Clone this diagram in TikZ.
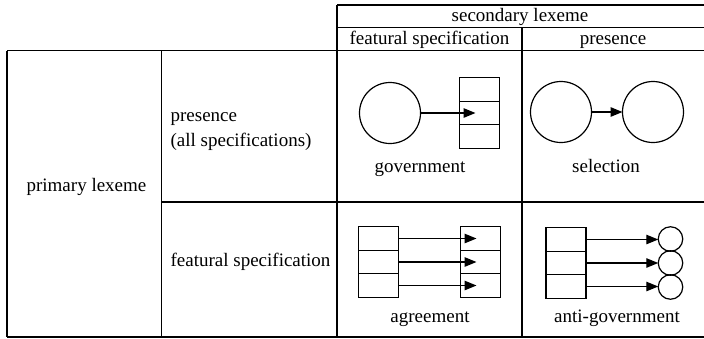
\documentclass[tikz,border=0pt]{standalone}
\usepackage{fontspec}
\setmainfont{Liberation Serif}
\usetikzlibrary{arrows.meta,positioning}
\begin{document}
\begin{tikzpicture}[x=1pt,y=-1pt,line width=1.2pt,
  arr/.style={-{Triangle[length=12pt,width=9.5pt]},line width=1.3pt},
  cellbox/.style={draw,minimum width=40pt,minimum height=23.5pt,inner sep=0pt,outer sep=0pt},
  bigcirc/.style={draw,circle,minimum size=61pt,inner sep=0pt,outer sep=0pt},
  smallcirc/.style={draw,circle,minimum size=24.5pt,inner sep=0pt,outer sep=0pt},
  lbl/.style={font=\fontsize{19}{23}\selectfont,inner sep=0pt,anchor=base}]
\useasboundingbox (0,0) rectangle (704,338);
% table rules
\draw (337,5) -- (704,5);
\draw (337,27.5) -- (704,27.5);
\draw (7,50.5) -- (704,50.5);
\draw (161.5,202) -- (704,202);
\draw (7,337) -- (704,337);
\draw (7,50.5) -- (7,337);
\draw (161.5,50.5) -- (161.5,337);
\draw (337,5) -- (337,337);
\draw (522,27.5) -- (522,337);
% headers
\node[lbl] (sec) at (520,21.5) {secondary lexeme};
\node[lbl] (fsh) at (429.5,44.5) {featural specification};
\node[lbl] (prh) at (613,44.5) {presence};
\node[lbl,anchor=base west] (prim) at (26,191) {primary lexeme};
\node[lbl,anchor=base west] (pres) at (170,121.5) {presence};
\node[lbl,anchor=base west] (pres2) at (170,146.5) {(all specifications)};
\node[lbl,anchor=base west] (feat) at (170,266.5) {featural specification};
% government
\node[bigcirc] (gc) at (390,113) {};
\node[cellbox] (gm) at (479.5,113) {};
\node[cellbox,above=0pt of gm] (gt) {};
\node[cellbox,below=0pt of gm] (gb) {};
\draw[arr] (gc.east) -- ([xshift=-4pt]gm.center);
\node[lbl] (govt) at (420,172.5) {government};
% selection
\node[bigcirc] (sa) at (561,112) {};
\node[bigcirc] (sb) at (653,112) {};
\draw[arr] (sa.east) -- (sb.west);
\node[lbl] (sel) at (606,172.5) {selection};
% agreement
\node[cellbox] (am) at (378.5,262) {};
\node[cellbox,above=0pt of am] (at) {};
\node[cellbox,below=0pt of am] (ab) {};
\node[cellbox] (bm) at (480.5,262) {};
\node[cellbox,above=0pt of bm] (bt) {};
\node[cellbox,below=0pt of bm] (bb) {};
\draw[arr] (at.east) -- ([xshift=-4pt]bt.center);
\draw[arr] (am.east) -- ([xshift=-4pt]bm.center);
\draw[arr] (ab.east) -- ([xshift=-4pt]bb.center);
\node[lbl] (agr) at (430,322.5) {agreement};
% anti-government
\node[cellbox] (nm) at (566,263) {};
\node[cellbox,above=0pt of nm] (nt) {};
\node[cellbox,below=0pt of nm] (nb) {};
\node[smallcirc] (om) at (670.5,263) {};
\node[smallcirc] (ot) at (670.5,239) {};
\node[smallcirc] (ob) at (670.5,287) {};
\draw[arr] (nt.east) -- (nt.east -| ot.west);
\draw[arr] (nm.east) -- (om.west);
\draw[arr] (nb.east) -- (nb.east -| ob.west);
\node[lbl] (antig) at (617,322.5) {anti-government};
\end{tikzpicture}
\end{document}
